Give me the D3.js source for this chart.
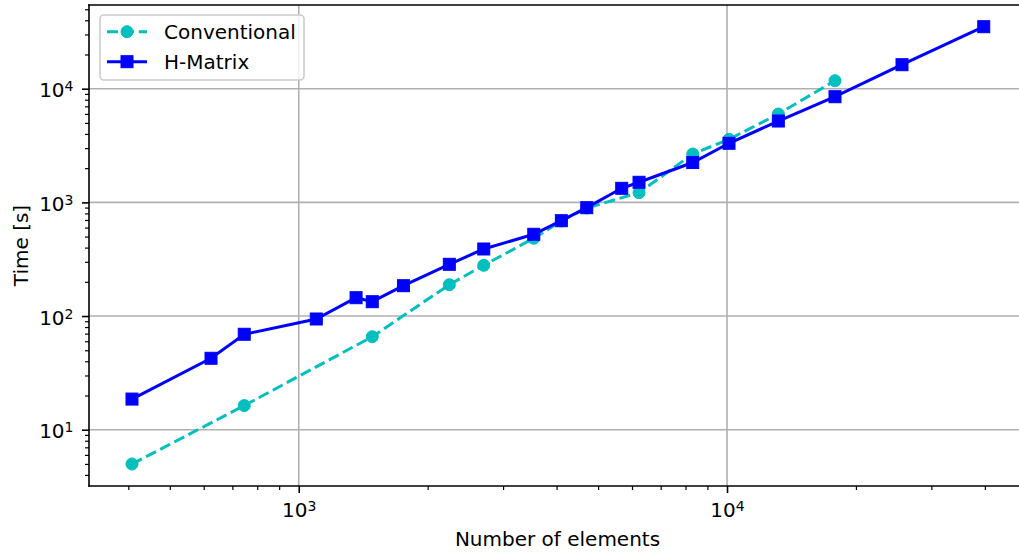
<!DOCTYPE html>
<html>
<head>
<meta charset="utf-8">
<script src="https://cdn.jsdelivr.net/npm/d3@7"></script>
<style>
  html, body { margin: 0; padding: 0; background: #ffffff; }
  svg { display: block; font-family: "DejaVu Sans", sans-serif; }
</style>
</head>
<body>
<svg id="chart" width="1019" height="552"></svg>
<script>
// Runtime of the conventional solver vs. the H-Matrix solver
const nElemConventional = [408, 746, 1485, 2247, 2704, 3538, 4104, 4704, 6231, 8317, 10108, 13177, 17870];
const timeConventional  = [4.99, 16.3, 65.8, 188.7, 279.5, 483, 686, 892, 1217, 2665, 3588, 5991, 11760];

const nElemHMatrix = [408, 624, 746, 1099, 1361, 1485, 1756, 2247, 2704, 3538, 4104, 4704, 5677, 6231, 8317, 10108, 13177, 17870, 25620, 39760];
const timeHMatrix  = [18.6, 42.5, 69.1, 94.2, 145, 133.7, 184.9, 285.2, 388.9, 523.8, 689.7, 898, 1330, 1502, 2242, 3309, 5196, 8503, 16260, 35110];

const seriesNames = ["Conventional", "H-Matrix"];
const xMajorTicks = [1e3, 1e4];
const xTickExponents = ["3", "4"];
const yMajorTicks = [1e1, 1e2, 1e3, 1e4];
const yTickExponents = ["1", "2", "3", "4"];
const xTitle = "Number of elements";
const yTitle = "Time [s]";

const svg = d3.select("#chart");
const W = 1019, H = 552;
const plot = { left: 89, top: 5, right: 1026, bottom: 486 };

const x = d3.scaleLog().domain([323.8, 49900]).range([plot.left, plot.right]);
const y = d3.scaleLog().domain([3.197, 54500]).range([plot.bottom, plot.top]);

const gridColor = "#b0b0b0";
const colConv = "#00bfbf";
const colHM = "#0000ff";

// clip for data marks
svg.append("defs").append("clipPath").attr("id", "plotclip")
  .append("rect").attr("x", plot.left).attr("y", plot.top)
  .attr("width", plot.right - plot.left).attr("height", plot.bottom - plot.top);

// grid on major ticks
const grid = svg.append("g");
grid.selectAll("line.gx").data(xMajorTicks).join("line")
  .attr("x1", d => x(d)).attr("x2", d => x(d))
  .attr("y1", plot.top).attr("y2", plot.bottom)
  .attr("stroke", gridColor).attr("stroke-width", 1.6);
grid.selectAll("line.gy").data(yMajorTicks).join("line")
  .attr("x1", plot.left).attr("x2", plot.right)
  .attr("y1", d => y(d)).attr("y2", d => y(d))
  .attr("stroke", gridColor).attr("stroke-width", 1.6);

// axes
const isMajor = v => Math.abs(Math.log10(v) - Math.round(Math.log10(v))) < 1e-9;
const xMinor = x.ticks().filter(v => !isMajor(v));
const yMinor = y.ticks().filter(v => !isMajor(v));

function styleAxis(g) {
  g.select(".domain").remove();
  g.selectAll(".tick line").attr("stroke", "#000");
}

const gxMinor = svg.append("g").attr("transform", `translate(0,${plot.bottom})`)
  .call(d3.axisBottom(x).tickValues(xMinor).tickSize(4).tickFormat(""));
styleAxis(gxMinor);
gxMinor.selectAll(".tick line").attr("stroke-width", 1.2);

const gxMajor = svg.append("g").attr("transform", `translate(0,${plot.bottom})`)
  .call(d3.axisBottom(x).tickValues(xMajorTicks).tickSize(7).tickFormat(""));
styleAxis(gxMajor);
gxMajor.selectAll(".tick line").attr("stroke-width", 1.6);
gxMajor.selectAll(".tick text").each(function(d, i) {
  const t = d3.select(this);
  t.attr("y", 30.7).attr("dy", null).attr("text-anchor", "middle")
    .attr("font-size", 20).attr("fill", "#000").attr("font-family", "DejaVu Sans");
  t.text(null);
  t.append("tspan").text("10");
  t.append("tspan").attr("font-size", 14).attr("dy", -6).text(xTickExponents[i]);
});

const gyMinor = svg.append("g").attr("transform", `translate(${plot.left},0)`)
  .call(d3.axisLeft(y).tickValues(yMinor).tickSize(4).tickFormat(""));
styleAxis(gyMinor);
gyMinor.selectAll(".tick line").attr("stroke-width", 1.2);

const gyMajor = svg.append("g").attr("transform", `translate(${plot.left},0)`)
  .call(d3.axisLeft(y).tickValues(yMajorTicks).tickSize(7).tickFormat(""));
styleAxis(gyMajor);
gyMajor.selectAll(".tick line").attr("stroke-width", 1.6);
gyMajor.selectAll(".tick text").each(function(d, i) {
  const t = d3.select(this);
  t.attr("x", -15.5).attr("y", 8).attr("dy", null).attr("text-anchor", "end")
    .attr("font-size", 20).attr("fill", "#000").attr("font-family", "DejaVu Sans");
  t.text(null);
  t.append("tspan").text("10");
  t.append("tspan").attr("font-size", 14).attr("dy", -6).text(yTickExponents[i]);
});

// spines (right spine lies outside the canvas)
const spines = svg.append("g").attr("stroke", "#000").attr("stroke-width", 1.6).attr("stroke-linecap", "square");
spines.append("line").attr("x1", plot.left).attr("x2", plot.left).attr("y1", plot.top).attr("y2", plot.bottom);
spines.append("line").attr("x1", plot.left).attr("x2", plot.right).attr("y1", plot.bottom).attr("y2", plot.bottom);
spines.append("line").attr("x1", plot.left).attr("x2", plot.right).attr("y1", plot.top).attr("y2", plot.top);

// data series
const data = svg.append("g").attr("clip-path", "url(#plotclip)");
const line = d3.line().x(d => x(d[0])).y(d => y(d[1]));

const convPts = nElemConventional.map((n, i) => [n, timeConventional[i]]);
const hmPts = nElemHMatrix.map((n, i) => [n, timeHMatrix[i]]);

const gConv = data.append("g");
gConv.append("path").datum(convPts).attr("d", line)
  .attr("fill", "none").attr("stroke", colConv).attr("stroke-width", 3)
  .attr("stroke-dasharray", "11.1,4.8");
gConv.selectAll("circle").data(convPts).join("circle")
  .attr("cx", d => x(d[0])).attr("cy", d => y(d[1])).attr("r", 6)
  .attr("fill", colConv).attr("stroke", colConv).attr("stroke-width", 1);

const gHM = data.append("g");
gHM.append("path").datum(hmPts).attr("d", line)
  .attr("fill", "none").attr("stroke", colHM).attr("stroke-width", 3);
gHM.selectAll("rect").data(hmPts).join("rect")
  .attr("x", d => x(d[0]) - 6).attr("y", d => y(d[1]) - 6)
  .attr("width", 12).attr("height", 12)
  .attr("fill", colHM).attr("stroke", colHM).attr("stroke-width", 1);

// axis titles
svg.append("text").attr("x", (plot.left + plot.right) / 2).attr("y", 546)
  .attr("text-anchor", "middle").attr("font-size", 20).attr("fill", "#000").text(xTitle);
svg.append("text").attr("transform", `translate(28.3,${(plot.top + plot.bottom) / 2}) rotate(-90)`)
  .attr("text-anchor", "middle").attr("font-size", 20).attr("fill", "#000").text(yTitle);

// legend
const leg = svg.append("g");
leg.append("rect").attr("x", 100).attr("y", 15).attr("width", 204).attr("height", 65).attr("rx", 4)
  .attr("fill", "#ffffff").attr("fill-opacity", 0.8).attr("stroke", "#cccccc").attr("stroke-width", 1.6);
const legRows = [
  { name: seriesNames[0], color: colConv, dash: "11.1,4.8", marker: "circle", cy: 31.7 },
  { name: seriesNames[1], color: colHM, dash: null, marker: "square", cy: 61.7 }
];
legRows.forEach(r => {
  leg.append("line").attr("x1", 107).attr("x2", 147).attr("y1", r.cy).attr("y2", r.cy)
    .attr("stroke", r.color).attr("stroke-width", 3).attr("stroke-dasharray", r.dash);
  if (r.marker === "circle") {
    leg.append("circle").attr("cx", 127).attr("cy", r.cy).attr("r", 6)
      .attr("fill", r.color).attr("stroke", r.color).attr("stroke-width", 1);
  } else {
    leg.append("rect").attr("x", 121).attr("y", r.cy - 6).attr("width", 12).attr("height", 12)
      .attr("fill", r.color).attr("stroke", r.color).attr("stroke-width", 1);
  }
  leg.append("text").attr("x", 164).attr("y", r.cy + 7.3).attr("font-size", 20).attr("fill", "#000").text(r.name);
});
</script>
</body>
</html>
